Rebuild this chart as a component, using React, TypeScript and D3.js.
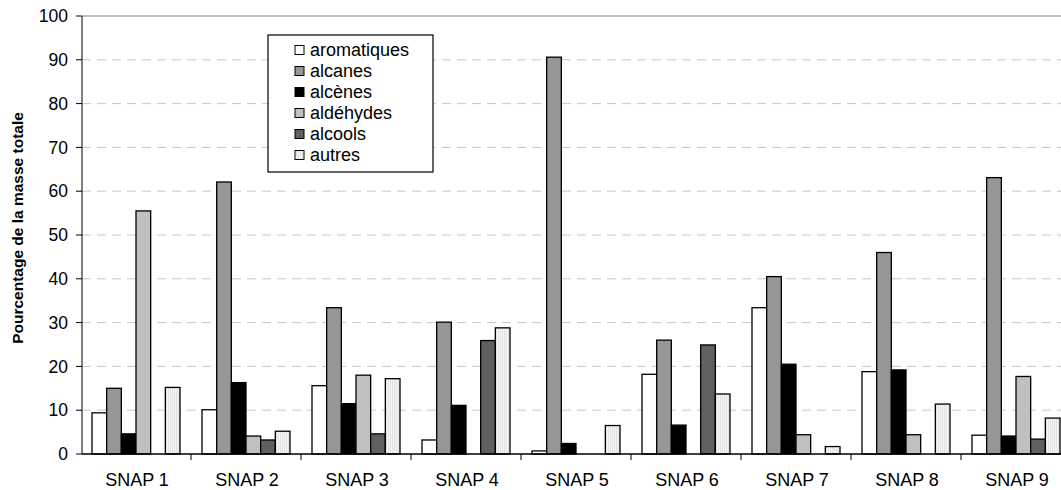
import React from "react";
import * as d3 from "d3";

const categories = ["SNAP 1", "SNAP 2", "SNAP 3", "SNAP 4", "SNAP 5", "SNAP 6", "SNAP 7", "SNAP 8", "SNAP 9"];
const seriesNames = ["aromatiques", "alcanes", "alcènes", "aldéhydes", "alcools", "autres"];
const aromatiques = [9.4, 10.1, 15.6, 3.2, 0.7, 18.2, 33.4, 18.8, 4.3];
const alcanes = [15.0, 62.1, 33.4, 30.1, 90.6, 26.0, 40.5, 46.0, 63.1];
const alcenes = [4.6, 16.3, 11.5, 11.1, 2.4, 6.6, 20.5, 19.2, 4.1];
const aldehydes = [55.5, 4.1, 18.0, 0, 0, 0, 4.4, 4.4, 17.7];
const alcools = [0, 3.2, 4.6, 25.9, 0, 24.9, 0, 0, 3.4];
const autres = [15.2, 5.2, 17.2, 28.8, 6.5, 13.7, 1.7, 11.4, 8.2];
const yTicks = [0, 10, 20, 30, 40, 50, 60, 70, 80, 90, 100];
const colors = ["#ffffff", "#969696", "#000000", "#c0c0c0", "#606060", "url(#stripes)"];

const seriesValues = [aromatiques, alcanes, alcenes, aldehydes, alcools, autres];

export default function App() {
  const W = 1061, H = 490;
  const x0 = d3.scaleBand<string>().domain(categories).range([81, 1071]).paddingInner(0.2).paddingOuter(0.1);
  const x1 = d3.scaleBand<string>().domain(seriesNames).range([0, x0.bandwidth()]).padding(0);
  const y = d3.scaleLinear().domain([0, 100]).range([454, 16]);
  const step = x0.step();
  const axisStart = 81;
  const font = "'Liberation Sans', Arial, sans-serif";

  return (
    <svg width={W} height={H} style={{ position: "absolute", left: 0, top: 0, background: "#fff" }}>
      <defs>
        <pattern id="stripes" width="2" height="4" patternUnits="userSpaceOnUse">
          <rect width="2" height="4" fill="#f6f6f6" />
          <rect width="1" height="4" fill="#e2e2e2" />
        </pattern>
      </defs>
      {/* gridlines */}
      {yTicks.filter(t => t > 0 && t < 100).map(t => (
        <line key={"g" + t} x1={82} x2={W} y1={y(t)} y2={y(t)} stroke="#c8c8c8" strokeWidth={1} strokeDasharray="9,6" />
      ))}
      {/* top border */}
      <line x1={82} x2={W} y1={y(100)} y2={y(100)} stroke="#808080" strokeWidth={1} />
      {/* bars */}
      {categories.map((c, i) => (
        <g key={c} transform={`translate(${x0(c)},0)`}>
          {seriesNames.map((s, j) => {
            const v = seriesValues[j][i];
            if (v <= 0) return null;
            return (
              <rect key={s} x={x1(s)} y={y(v)} width={x1.bandwidth()} height={y(0) - y(v)}
                fill={colors[j]} stroke="#000" strokeWidth={1.3} />
            );
          })}
        </g>
      ))}
      {/* y axis */}
      <line x1={82} x2={82} y1={y(100)} y2={y(0)} stroke="#000" strokeWidth={1} />
      {yTicks.map(t => (
        <g key={"t" + t}>
          <line x1={76} x2={82} y1={y(t)} y2={y(t)} stroke="#000" />
          <text x={68} y={y(t)} dy="0.35em" textAnchor="end" fontFamily={font} fontSize={17.5}>{t}</text>
        </g>
      ))}
      {/* x axis */}
      <line x1={82} x2={W} y1={y(0)} y2={y(0)} stroke="#000" strokeWidth={1.5} />
      {categories.map((c, i) => (
        <line key={"xt" + c} x1={axisStart + step * (i + 1)} x2={axisStart + step * (i + 1)} y1={y(0)} y2={y(0) + 6} stroke="#000" />
      ))}
      {categories.map(c => (
        <text key={"xl" + c} x={(x0(c) as number) + x0.bandwidth() / 2 + 1} y={485.5} textAnchor="middle" fontFamily={font} fontSize={18}>{c}</text>
      ))}
      {/* y title */}
      <text transform={`translate(23,228) rotate(-90)`} textAnchor="middle" fontFamily={font} fontSize={15.5} fontWeight="bold">Pourcentage de la masse totale</text>
      {/* legend */}
      <rect x={268} y={35} width={165} height={137} fill="#fff" stroke="#000" strokeWidth={1.2} />
      {seriesNames.map((s, j) => (
        <g key={"l" + s} transform={`translate(0,${50 + j * 21})`}>
          <rect x={295} y={-4.5} width={9} height={9} fill={colors[j]} stroke="#000" strokeWidth={1} />
          <text x={310} y={0} dy="0.35em" fontFamily={font} fontSize={18}>{s}</text>
        </g>
      ))}
    </svg>
  );
}
